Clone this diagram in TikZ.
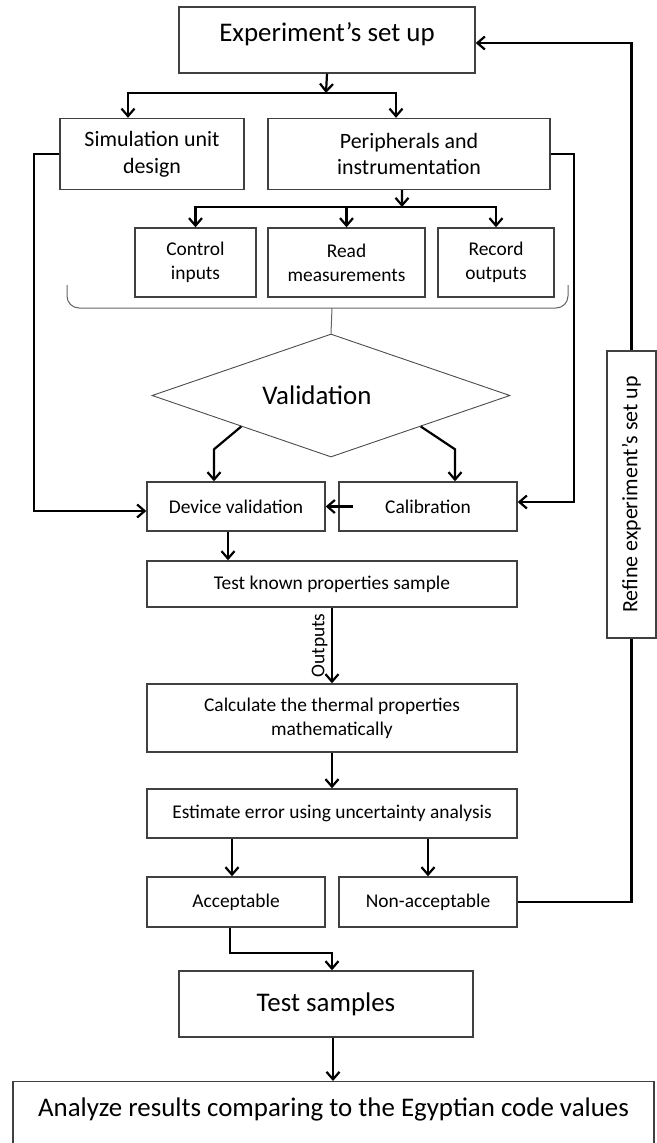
\documentclass[tikz,border=0pt]{standalone}
\usepackage{fontspec}
\setmainfont{Carlito}
\usetikzlibrary{positioning, arrows.meta, shapes.geometric}

\begin{document}
\begin{tikzpicture}[x=1bp,y=-1bp,on grid,>={Straight Barb[length=7.5bp,width=13bp]},
    box/.style={draw=black!75,line width=1.4bp,fill=white,align=center,inner sep=2bp,font=\fontsize{19.5}{24}\selectfont},
    midbox/.style={box,font=\fontsize{22}{27}\selectfont},
    bigbox/.style={box,font=\fontsize{27}{31}\selectfont},
    link/.style={line width=2.2bp,black},
    brace/.style={draw=black!60,line width=1bp,rounded corners=12bp}]
  \useasboundingbox (0,0) rectangle (657,1143);
  \clip (0,0) rectangle (657,1143);
  \node[bigbox,minimum width=296bp,minimum height=66bp,text depth=16bp] (s_setup) at (327,40) {Experiment’s set up};
  \node[midbox,minimum width=184bp,minimum height=71bp] (s_sim) at (152,154) {Simulation unit\\design};
  \node[midbox,minimum width=282bp,minimum height=71bp] (s_periph) [right=257bp of s_sim] {Peripherals and\\instrumentation};
  \node[box,minimum width=121bp,minimum height=69bp] (s_ctrl) at (195.5,262.5) {Control\\inputs};
  \node[box,minimum width=157bp,minimum height=69bp] (s_read) [right=151bp of s_ctrl] {Read\\measurements};
  \node[box,minimum width=116bp,minimum height=69bp] (s_rec) [right=149.5bp of s_read] {Record\\outputs};
  \node[diamond,draw=black!70,line width=0.9bp,aspect=2.9,inner sep=0pt,minimum width=358bp,minimum height=123bp,
        font=\fontsize{27}{31}\selectfont] (s_val) at (331,395.5) {\hspace*{-28bp}Validation};
  \node[box,minimum width=178bp,minimum height=49bp] (s_dev) at (236,506.5) {Device validation};
  \node[box,minimum width=178bp,minimum height=49bp] (s_cal) [right=192bp of s_dev] {Calibration};
  \node[box,minimum width=370bp,minimum height=46bp] (s_test) at (332,584) {Test known properties sample};
  \node[box,minimum width=370bp,minimum height=68bp] (s_calc) at (332,718) {Calculate the thermal properties\\mathematically};
  \node[box,minimum width=370bp,minimum height=49bp] (s_est) at (332,813.5) {Estimate error using uncertainty analysis};
  \node[box,minimum width=178bp,minimum height=50bp] (s_acc) at (236,902) {Acceptable};
  \node[box,minimum width=178bp,minimum height=50bp] (s_non) [right=192bp of s_acc] {Non-acceptable};
  \node[bigbox,minimum width=294bp,minimum height=66bp] (s_tests) at (326,1004) {Test samples};
  \node[bigbox,anchor=north,minimum width=641bp,text height=33bp,text depth=40bp] (s_anal) at (333.5,1081)
        {Analyze results comparing to the Egyptian code values};
  \node[midbox,rotate=90,minimum width=287bp,minimum height=49bp] (s_ref) at (631.5,494.5) {Refine experiment’s set up};

  \coordinate (j_top) at (326,93);
  \coordinate (j_mid) at (402,207);
  \coordinate (b_tip) at (332,308);
  \draw[link,->] (s_setup.south) -- (j_top);
  \draw[link,->] (j_top) -| ([xshift=-24bp]s_sim.north);
  \draw[link,->] (j_top) -| ([xshift=-13bp]s_periph.north);
  \draw[link,->] ([xshift=-7bp]s_periph.south) -- (j_mid);
  \draw[link,->] (j_mid) -| (s_ctrl.north);
  \draw[link,->] (j_mid) -| (s_read.north);
  \draw[link,->] (j_mid) -| (s_rec.north);
  \draw[brace] (67,285) |- (b_tip) -| (568,285);
  \draw[brace] (b_tip) -- (s_val.north);
  \draw[link,->] (s_val.south west) -- ([shift={(-22,-32)}]s_dev.north) -- ([xshift=-22bp]s_dev.north);
  \draw[link,->] (s_val.south east) -- ([shift={(27,-32)}]s_cal.north) -- ([xshift=27bp]s_cal.north);
  \draw[link,->] ([xshift=15bp]s_cal.west) -- (s_dev.east);
  \draw[link,->] (s_sim.west) -- ++(-25,0) |- ([yshift=-4.5bp]s_dev.west);
  \draw[link,->] (s_periph.east) -- ++(23,0) |- ([yshift=4.5bp]s_cal.east);
  \draw[link,->] ([xshift=-8bp]s_dev.south) -- ([xshift=-8bp]s_dev.south |- s_test.north);
  \path[link,->]
    (s_test) edge node[rotate=90,above,font=\fontsize{19.5}{24}\selectfont] {Outputs} (s_calc)
    (s_calc) edge (s_est)
    ([xshift=-4bp]s_acc.north |- s_est.south) edge ([xshift=-4bp]s_acc.north)
    (s_non.north |- s_est.south) edge (s_non.north);
  \draw[link] (s_non.east) -| (s_ref.west);
  \draw[link,->] (s_ref.east) |- ([yshift=-3bp]s_setup.east);
  \draw[link,->] ([xshift=-6bp]s_acc.south) -- ++(0,25) -| ([xshift=6bp]s_tests.north);
  \draw[link,->] ([xshift=7bp]s_tests.south) -- ([xshift=7bp]s_tests.south |- s_anal.north);
\end{tikzpicture}
\end{document}
